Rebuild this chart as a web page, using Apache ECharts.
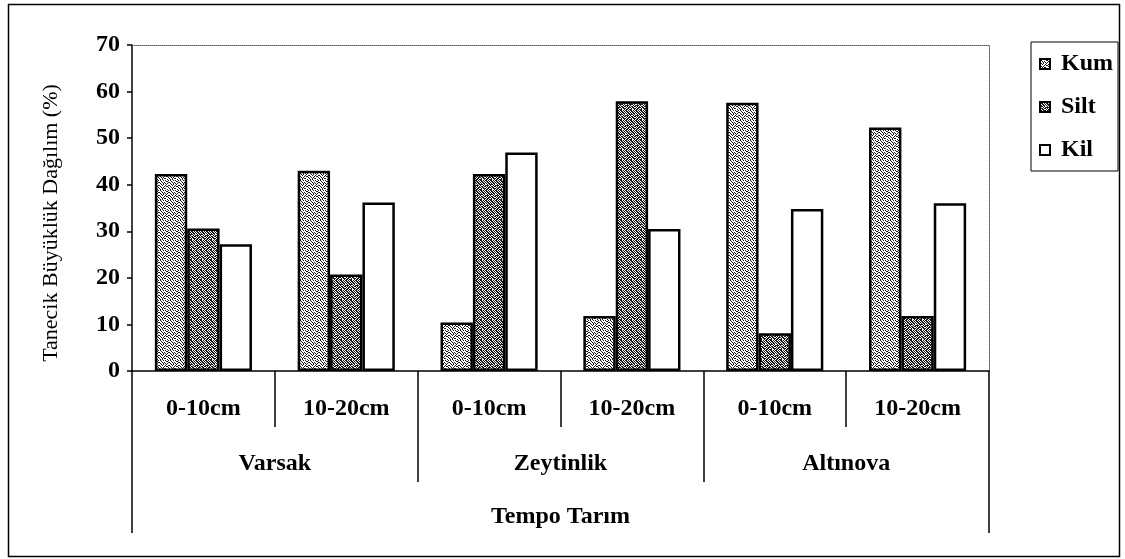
<!DOCTYPE html>
<html>
<head>
<meta charset="utf-8">
<script src="https://cdn.jsdelivr.net/npm/echarts@6/dist/echarts.min.js"></script>
<style>
html,body{margin:0;padding:0;background:#fff;}
#chart{width:1125px;height:559px;}
</style>
</head>
<body>
<div id="chart"></div>
<script>
// ---- data ----
const depths = ['0-10cm', '10-20cm', '0-10cm', '10-20cm', '0-10cm', '10-20cm'];
const sites = ['Varsak', 'Zeytinlik', 'Altınova'];
const topGroup = ['Tempo Tarım'];
const seriesNames = ['Kum', 'Silt', 'Kil'];
const kum = [42.3, 43.0, 10.4, 11.8, 57.6, 52.3];
const silt = [30.6, 20.7, 42.3, 57.9, 8.1, 11.8];
const kil = [27.2, 36.2, 46.9, 30.5, 34.8, 36.0];
const yTicks = [0, 10, 20, 30, 40, 50, 60, 70];

// ---- stipple textures ----
function makeTile(rows) {
  const c = document.createElement('canvas');
  c.width = rows[0].length; c.height = rows.length;
  const ctx = c.getContext('2d');
  ctx.fillStyle = '#ffffff'; ctx.fillRect(0, 0, c.width, c.height);
  ctx.fillStyle = '#1a1a1a';
  rows.forEach((r, y) => { for (let x = 0; x < r.length; x++) if (r[x] === '1') ctx.fillRect(x, y, 1, 1); });
  return c;
}
const kumTile = makeTile([
  '1001010010',
  '0100001100',
  '0010100011',
  '1001010100',
  '0101001000',
  '0010010011',
  '1000101100',
  '0101000010',
  '0010110001',
  '1010000100'
]);
const siltTile = makeTile([
  '1101011010',
  '0110101101',
  '1011010110',
  '0101101011',
  '1110100101',
  '1001011110',
  '0110110101',
  '1011001011',
  '0101110110',
  '1100101101'
]);

const FONT = '"Liberation Serif", "Times New Roman", serif';
const fills = [{image: kumTile, repeat: 'repeat'}, {image: siltTile, repeat: 'repeat'}, '#ffffff'];
const values = [kum, silt, kil];

const chart = echarts.init(document.getElementById('chart'), null, {renderer: 'canvas'});
const option = {
  animation: false,
  backgroundColor: '#ffffff',
  grid: {left: 132, right: 136, top: 45, bottom: 188, containLabel: false},
  legend: {
    orient: 'vertical',
    left: 1031, top: 42,
    data: seriesNames,
    itemWidth: 10, itemHeight: 10, itemGap: 19,
    padding: [10, 5, 9, 8],
    borderColor: '#000', borderWidth: 1,
    icon: 'rect',
    textStyle: {fontFamily: FONT, fontSize: 24, fontWeight: 'bold', color: '#000', lineHeight: 23, padding: [0, 0, 0, 6]}
  },
  xAxis: [
    {
      type: 'category', data: depths, position: 'bottom', gridIndex: 0,
      axisLine: {show: true, lineStyle: {color: '#000', width: 1.5}},
      axisTick: {show: true, length: 56, interval: 0, lineStyle: {color: '#000', width: 1.5}},
      axisLabel: {interval: 0, margin: 26, fontFamily: FONT, fontSize: 24, fontWeight: 'bold', color: '#000'},
      splitLine: {show: false}
    },
    {
      type: 'category', data: sites, position: 'bottom', gridIndex: 0,
      axisLine: {show: false},
      axisTick: {show: true, length: 111, interval: 0, lineStyle: {color: '#000', width: 1.5}},
      axisLabel: {interval: 0, margin: 81, fontFamily: FONT, fontSize: 24, fontWeight: 'bold', color: '#000'},
      splitLine: {show: false}
    },
    {
      type: 'category', data: topGroup, position: 'bottom', gridIndex: 0,
      axisLine: {show: false},
      axisTick: {show: true, length: 162, interval: 0, lineStyle: {color: '#000', width: 1.5}},
      axisLabel: {interval: 0, margin: 134, fontFamily: FONT, fontSize: 24, fontWeight: 'bold', color: '#000'},
      splitLine: {show: false}
    },
    {
      type: 'category', data: depths, position: 'top', gridIndex: 0,
      axisLine: {show: true, lineStyle: {color: '#555', width: 1, type: 'dotted'}},
      axisTick: {show: false}, axisLabel: {show: false}, splitLine: {show: false}
    }
  ],
  yAxis: [
    {
      type: 'value', min: 0, max: 70, interval: 10, position: 'left',
      name: 'Tanecik Büyüklük Dağılım (%)', nameLocation: 'middle', nameGap: 70, nameRotate: 90,
      nameTextStyle: {fontFamily: FONT, fontSize: 22, color: '#000', padding: [0, 30, 0, 0]},
      axisLine: {show: true, lineStyle: {color: '#000', width: 1.5}},
      axisTick: {show: true, inside: false, length: 5, lineStyle: {color: '#000', width: 1.5}},
      axisLabel: {margin: 12, fontFamily: FONT, fontSize: 24, fontWeight: 'bold', color: '#000',
        formatter: v => (yTicks.indexOf(v) >= 0 ? String(v) : '')},
      splitLine: {show: false}
    },
    {
      type: 'value', min: 0, max: 70, interval: 10, position: 'right',
      axisLine: {show: true, lineStyle: {color: '#555', width: 1, type: 'dotted'}},
      axisTick: {show: false}, axisLabel: {show: false}, splitLine: {show: false}
    }
  ],
  series: seriesNames.map((n, i) => ({
    name: n, type: 'bar', xAxisIndex: 0, yAxisIndex: 0,
    data: values[i],
    barGap: '0%', barCategoryGap: '32%',
    itemStyle: {color: fills[i], borderColor: '#000', borderWidth: 2.5}
  })),
  graphic: [{
    type: 'rect', silent: true, z: -1,
    shape: {x: 8.5, y: 4.5, width: 1111, height: 552},
    style: {fill: 'none', stroke: '#000', lineWidth: 1.5}
  }]
};
chart.setOption(option);
</script>
</body>
</html>
